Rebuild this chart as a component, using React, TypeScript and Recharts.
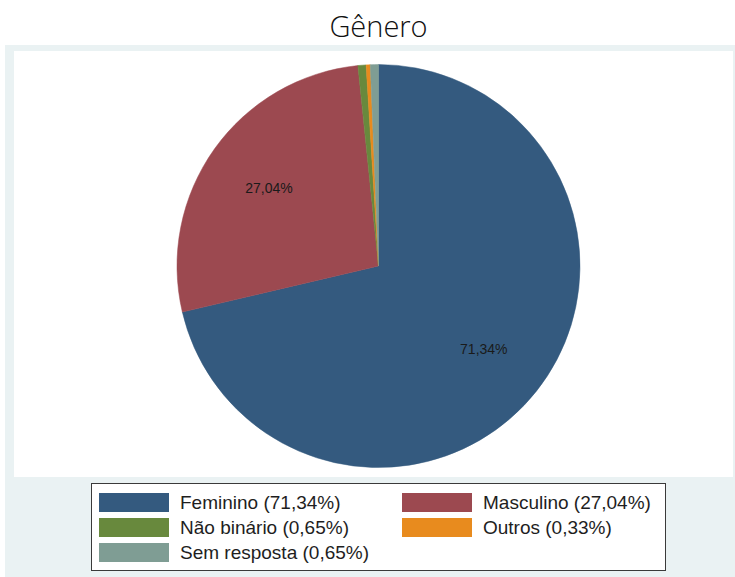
import React from 'react';
import { PieChart, Pie, Cell, Legend } from 'recharts';

const categories = ['Feminino', 'Masculino', 'Não binário', 'Outros', 'Sem resposta'];
const values = [71.34, 27.04, 0.65, 0.33, 0.65];
const colors = ['#345a7f', '#9c4950', '#68893d', '#e88b1e', '#7f9d94'];
const labeledSlices = [true, true, false, false, false];
const title = 'Gênero';

const fmt = (v: number) => v.toFixed(2).replace('.', ',') + '%';

const data = categories.map((name, i) => ({ name, value: values[i] }));

const RADIAN = Math.PI / 180;

const renderLabel = (props: any) => {
  const { cx, cy, midAngle, outerRadius, index } = props;
  if (!labeledSlices[index]) return null;
  const r = outerRadius * 0.667;
  const x = cx + r * Math.cos(-midAngle * RADIAN);
  const y = cy + r * Math.sin(-midAngle * RADIAN);
  return (
    <text
      x={x}
      y={y}
      textAnchor="middle"
      dominantBaseline="central"
      fill="#1a1a1a"
      fontSize={14}
      fontFamily="'Liberation Sans', Arial, sans-serif"
    >
      {fmt(values[index])}
    </text>
  );
};

const renderLegend = () => {
  const colX = [8, 311];
  const rowY = [10, 35, 60];
  return (
    <div
      style={{
        position: 'relative',
        width: 575,
        height: 88,
        boxSizing: 'border-box',
        border: '1px solid #3a3a3a',
        background: '#ffffff',
        fontFamily: "'Liberation Sans', Arial, sans-serif",
        fontSize: 19,
        color: '#1e1e1e',
      }}
    >
      {categories.map((name, i) => {
        const col = i % 2;
        const row = Math.floor(i / 2);
        return (
          <div key={name}>
            <div
              style={{
                position: 'absolute',
                left: colX[col] - 1,
                top: rowY[row] - 1,
                width: 70,
                height: 19,
                background: colors[i],
              }}
            />
            <div
              style={{
                position: 'absolute',
                left: colX[col] + 80,
                top: rowY[row] - 2,
                height: 22,
                lineHeight: '22px',
                whiteSpace: 'nowrap',
              }}
            >
              {`${name} (${fmt(values[i])})`}
            </div>
          </div>
        );
      })}
    </div>
  );
};

export default function App() {
  return (
    <div style={{ position: 'absolute', left: 0, top: 0, width: 735, height: 577, background: '#ffffff', overflow: 'hidden' }}>
      <div
        style={{
          position: 'absolute',
          left: 0,
          top: 7,
          width: 757,
          textAlign: 'center',
          fontFamily: "'Open Sans', sans-serif",
          fontWeight: 300,
          fontSize: 29,
          color: '#111',
          lineHeight: '38px',
        }}
      >
        {title}
      </div>
      <div style={{ position: 'absolute', left: 5, top: 45, width: 730, height: 532, background: '#eaf2f3' }} />
      <div style={{ position: 'absolute', left: 14, top: 51, width: 719, height: 426, background: '#ffffff' }} />
      <div style={{ position: 'absolute', left: 0, top: 0 }}>
        <PieChart width={735} height={577} margin={{ top: 0, right: 0, bottom: 0, left: 0 }}>
          <Pie
            data={data}
            dataKey="value"
            nameKey="name"
            cx={378.5}
            cy={266}
            outerRadius={201.5}
            innerRadius={0}
            startAngle={90}
            endAngle={-270}
            label={renderLabel}
            labelLine={false}
            isAnimationActive={false}
          >
            {data.map((d, i) => (
              <Cell key={d.name} fill={colors[i]} stroke={colors[i]} strokeWidth={0.5} />
            ))}
          </Pie>
          <Legend
            content={renderLegend}
            wrapperStyle={{ position: 'absolute', left: 91, top: 483, width: 575, height: 88 }}
          />
        </PieChart>
      </div>
    </div>
  );
}
